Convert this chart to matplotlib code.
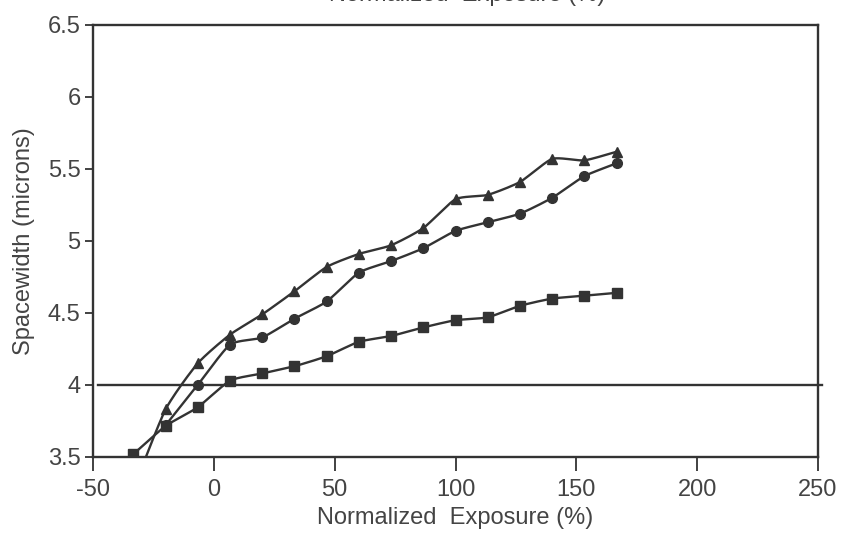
import numpy as np
import matplotlib.pyplot as plt

# exposure steps (%), same for all three series
exposure = [-33.3, -20.0, -6.7, 6.7, 20.0, 33.3, 46.7, 60.0, 73.3, 86.7,
            100.0, 113.3, 126.7, 140.0, 153.3, 166.7]

# spacewidth (microns)
tri_y = [3.28, 3.83, 4.15, 4.35, 4.49, 4.65, 4.82, 4.91, 4.97, 5.09,
         5.29, 5.32, 5.41, 5.57, 5.56, 5.62]
circ_x = exposure[1:]
circ_y = [3.72, 4.00, 4.28, 4.33, 4.46, 4.58, 4.78, 4.86, 4.95, 5.07,
          5.13, 5.19, 5.30, 5.45, 5.54]
sq_y = [3.52, 3.715, 3.845, 4.03, 4.08, 4.13, 4.20, 4.30, 4.34, 4.40,
        4.45, 4.47, 4.55, 4.60, 4.62, 4.64]

ref_level = 4.0


def smooth(xs, ys, n=20, k=0.6):
    # cardinal spline through the points (k scales the tangents)
    p = np.column_stack([xs, ys]).astype(float)
    p = np.vstack([2 * p[0] - p[1], p, 2 * p[-1] - p[-2]])
    out = []
    t = np.linspace(0, 1, n, endpoint=False)[:, None]
    h00 = 2 * t**3 - 3 * t**2 + 1
    h10 = t**3 - 2 * t**2 + t
    h01 = -2 * t**3 + 3 * t**2
    h11 = t**3 - t**2
    for i in range(1, len(p) - 2):
        m1 = k * (p[i + 1] - p[i - 1]) / 2
        m2 = k * (p[i + 2] - p[i]) / 2
        out.append(h00 * p[i] + h10 * m1 + h01 * p[i + 1] + h11 * m2)
    out.append(p[-2][None, :])
    out = np.vstack(out)
    return out[:, 0], out[:, 1]


plt.rcParams['font.family'] = ['Liberation Sans', 'DejaVu Sans']

fig = plt.figure(figsize=(8.42, 5.36), dpi=100)
ax = fig.add_axes([0.1105, 0.1474, 0.861, 0.806])

ink = '#333333'
txt = '#444444'

for xs, ys, mk, ms in [(exposure, tri_y, '^', 7.5), (circ_x, circ_y, 'o', 7), (exposure, sq_y, 's', 6.5)]:
    sx, sy = smooth(xs, ys)
    ax.plot(sx, sy, '-', color=ink, lw=1.7)
    ax.plot(xs, ys, mk, color=ink, ms=ms, mec=ink)

ax.plot([-47.9, 251.7], [ref_level, ref_level], color=ink, lw=1.7, clip_on=False)

ax.set_xlim(-50, 250)
ax.set_ylim(3.5, 6.5)
ax.set_xticks([-50, 0, 50, 100, 150, 200, 250])
ax.set_yticks([3.5, 4, 4.5, 5, 5.5, 6, 6.5])
ax.set_xticklabels(['-50', '0', '50', '100', '150', '200', '250'])
ax.set_yticklabels(['3.5', '4', '4.5', '5', '5.5', '6', '6.5'])
ax.tick_params(axis='x', direction='out', length=10, width=1.3, color=ink, labelcolor=txt,
               labelsize=17, pad=6)
ax.tick_params(axis='y', direction='out', length=6, width=1.3, color=ink, labelcolor=txt,
               labelsize=17, pad=3)
for s in ax.spines.values():
    s.set_color(ink)
    s.set_linewidth(1.7)

ax.set_xlabel('Normalized  Exposure (%)', fontsize=17, color=txt, labelpad=4)
ax.set_ylabel('Spacewidth (microns)', fontsize=17, color=txt, labelpad=9)

# title of the original is cut off at the top edge
fig.text(0.555, 1 - 1.5 / 536, 'Normalized  Exposure (%)', fontsize=17, color=txt,
         ha='center', va='baseline')

fig.savefig('out.png', dpi=100)
